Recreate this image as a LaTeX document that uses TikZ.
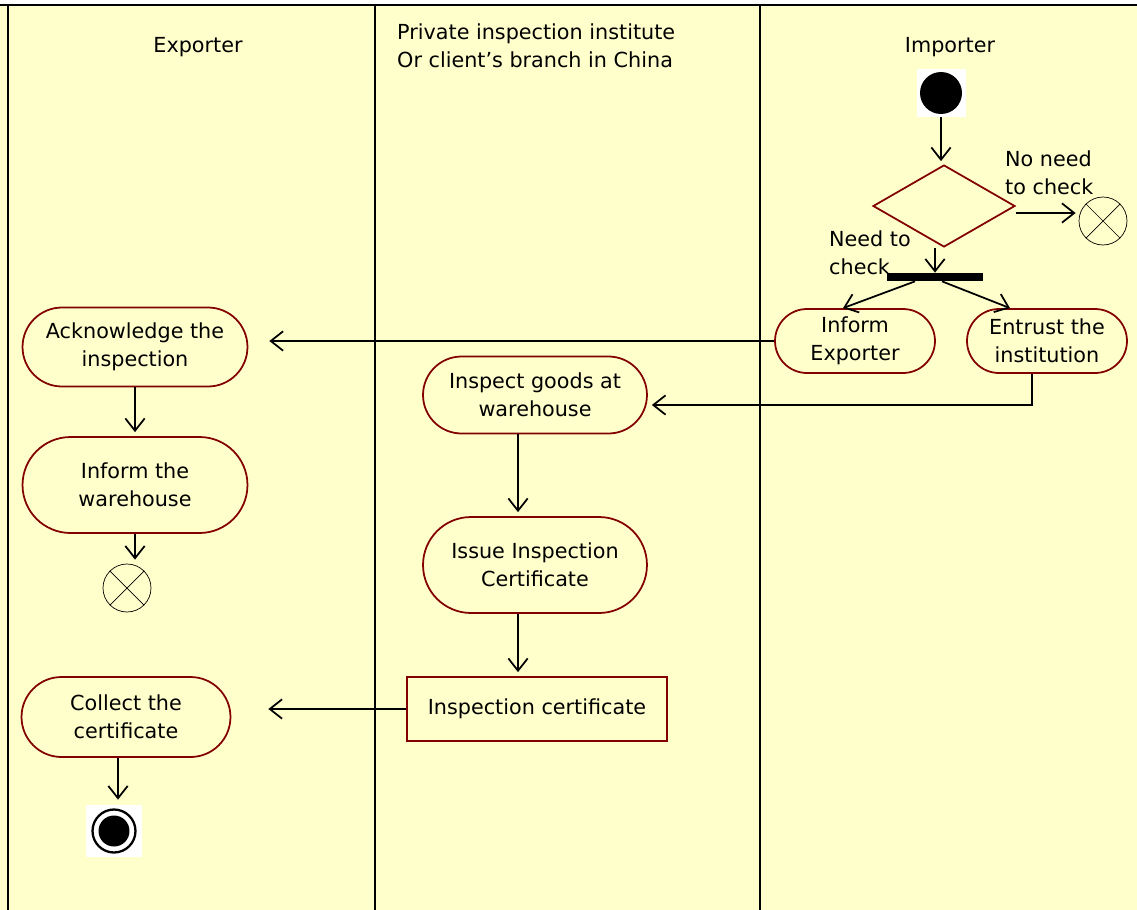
\documentclass[tikz,border=0pt]{standalone}
\usepackage{fontspec}
\setmainfont{DejaVu Sans}
\usetikzlibrary{shapes.geometric, shapes.misc, arrows.meta}
\definecolor{lanefill}{RGB}{255,255,204}
\definecolor{actred}{RGB}{130,0,0}

\begin{document}
\begin{tikzpicture}[
    x=0.02cm, y=-0.02cm,
    font=\fontsize{11.8}{16}\selectfont,
    action/.style={rounded rectangle, draw=actred, line width=1pt, align=center, inner sep=0pt},
    object/.style={rectangle, draw=actred, line width=1pt, align=center, inner sep=0pt},
    decision/.style={diamond, draw=actred, line width=1pt, inner sep=0pt, minimum width=2.84cm, minimum height=1.64cm},
    flowend/.style={circle, draw, thin, minimum size=0.96cm, inner sep=0pt},
    iconbg/.style={rectangle, fill=white, inner sep=0pt},
    flow/.style={-{Straight Barb[length=7pt,width=11pt]}, line width=1pt},
    lane/.style={line width=1.2pt}
]
\useasboundingbox (0,0) rectangle (1137,910);

% Swimlanes
\fill[lanefill] (0,5) rectangle (1137,910);
\draw[lane] (0,5) -- (1137,5);
\draw[lane] (8,5) -- (8,910);
\draw[lane] (375,5) -- (375,910);
\draw[lane] (760,5) -- (760,910);

\node (hexp) at (198,47) {Exporter};
\node[anchor=west, align=left] (hins) at (391,46) {Private inspection institute\\Or client’s branch in China};
\node (himp) at (950,47) {Importer};

% Importer
\node[iconbg, minimum width=0.98cm, minimum height=0.96cm] (init) at (941,93) {};
\fill (init.center) circle (0.42cm);
\node[decision] (dec) at (944,206) {};
\node[flowend] (stop2) at (1103,221) {};
\draw (stop2.45) -- (stop2.225) (stop2.135) -- (stop2.315);
\node[anchor=west, align=left] (nocheck) at (999,173) {No need\\to check};
\node[fill=black, minimum width=1.92cm, minimum height=0.16cm, inner sep=0pt] (bar) at (935,277) {};
\node[anchor=west, align=left] (needcheck) at (823,253) {Need to\\check};
\node[action, minimum width=3.2cm, minimum height=1.28cm] (infexp) at (855,341) {Inform\\Exporter};
\node[action, minimum width=3.2cm, minimum height=1.28cm] (entrust) at (1047,341) {Entrust the\\institution};

% Inspection institute
\node[action, minimum width=4.48cm, minimum height=1.54cm] (inspect) at (535,395) {Inspect goods at\\warehouse};
\node[action, minimum width=4.48cm, minimum height=1.92cm] (issue) at (535,565) {Issue Inspection\\Certificate};
\node[object, minimum width=5.2cm, minimum height=1.28cm] (cert) at (537,709) {Inspection certificate};

% Exporter
\node[action, minimum width=4.5cm, minimum height=1.58cm] (ack) at (135,347) {Acknowledge the\\inspection};
\node[action, minimum width=4.5cm, minimum height=1.92cm] (warehouse) at (135,485) {Inform the\\warehouse};
\node[flowend] (stop1) at (127,588) {};
\draw (stop1.45) -- (stop1.225) (stop1.135) -- (stop1.315);
\node[action, minimum width=4.18cm, minimum height=1.6cm] (collect) at (126,717) {Collect the\\certificate};
\node[iconbg, minimum width=1.12cm, minimum height=1.04cm] (final) at (114,831) {};
\draw[line width=1.3pt] (final.center) circle (0.43cm);
\fill (final.center) circle (0.31cm);

% Flows
\draw[flow, shorten >=0.06cm] (init.south) -- (init.south |- dec.north);
\draw[flow, shorten >=0.06cm] ([yshift=-0.14cm]dec.east) -- ([yshift=-0.14cm]dec.east -| stop2.west);
\draw[flow] (dec.south -| bar.north) -- (bar.north);
\draw[flow] ([xshift=-0.4cm]bar.south) -- ([xshift=-0.24cm]infexp.north);
\draw[flow] ([xshift=0.14cm]bar.south) -- ([xshift=-0.74cm]entrust.north);
\draw[flow, shorten >=0.42cm] (infexp.west) -- (infexp.west -| ack.east);
\draw[flow, shorten >=0.08cm] ([xshift=-0.3cm]entrust.south) |- ([yshift=-0.2cm]inspect.east);
\draw[flow, shorten >=0.08cm] (ack.south) -- (warehouse.north);
\draw[flow, shorten >=0.08cm] (warehouse.south) -- (warehouse.south |- stop1.north);
\draw[flow, shorten >=0.08cm] ([xshift=-0.34cm]inspect.south) -- ([xshift=-0.34cm]issue.north);
\draw[flow, shorten >=0.08cm] ([xshift=-0.34cm]issue.south) -- ([xshift=-0.34cm]issue.south |- cert.north);
\draw[flow, shorten >=0.74cm] (cert.west) -- (cert.west -| collect.east);
\draw[flow, shorten >=0.1cm] ([xshift=-0.16cm]collect.south) -- ([xshift=-0.16cm]collect.south |- final.north);

\end{tikzpicture}
\end{document}
